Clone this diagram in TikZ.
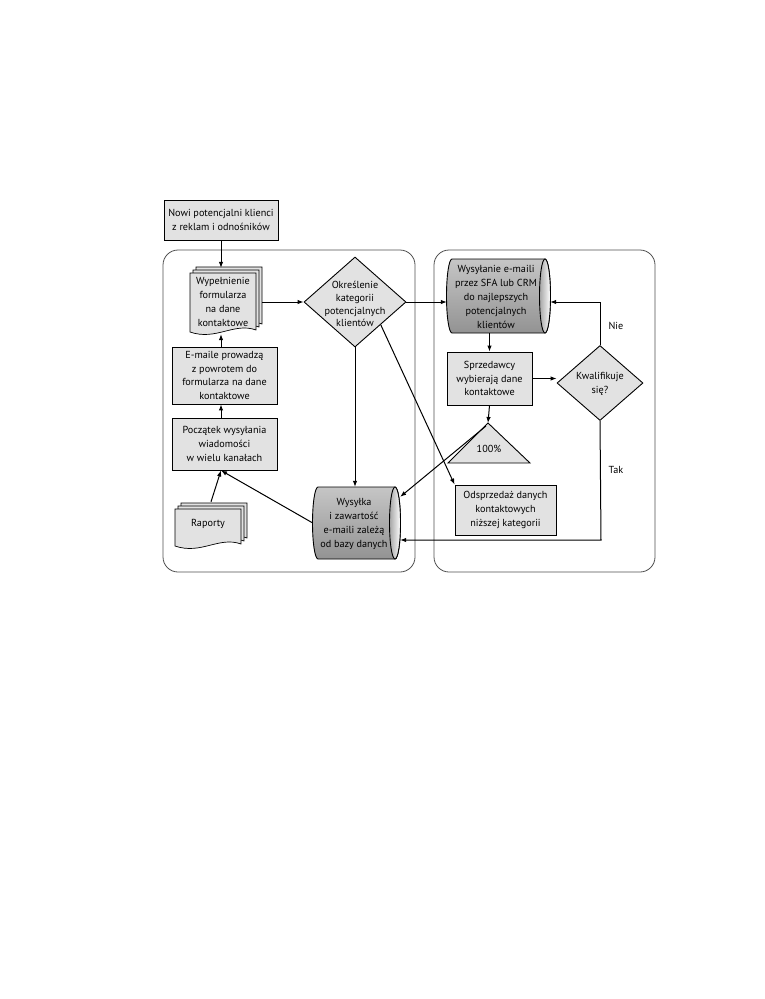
\documentclass[tikz,border=0pt]{standalone}
\usepackage{fontspec}
\setmainfont{PT Sans}
\usetikzlibrary{arrows.meta,shapes.geometric}
\definecolor{boxgray}{HTML}{E2E2E2}
\definecolor{framegray}{HTML}{505050}
\newcommand{\mydoc}[4]{%
  \foreach \o in {6,3,0} {%
    \filldraw[docpage] (#1+\o,#2-\o) -- (#3+\o,#2-\o) -- (#3+\o,#4-2-\o)
      .. controls (#3-22+\o,#4-10-\o) and (#1+26+\o,#4+9-\o) .. (#1+\o,#4-\o) -- cycle;}%
}
\newcommand{\myhcyl}[5]{%
  \shadedraw[cylbody] (#1+5,#2) -- (#3-5,#2)
    arc[start angle=90,end angle=-90,x radius=5.5pt,y radius=#5pt] -- (#1+5,#4)
    arc[start angle=270,end angle=90,x radius=5.5pt,y radius=#5pt] -- cycle;
  \shadedraw[cylcap] (#3-5,{(#2+#4)/2}) ellipse[x radius=5.5pt,y radius=#5pt];
}
\begin{document}
\begin{tikzpicture}[x=1pt,y=-1pt,
  every node/.style={font=\fontsize{10.2}{13.8}\selectfont, align=center, inner sep=0pt},
  proc/.style={draw, line width=0.9pt, fill=boxgray},
  dia/.style={draw, line width=0.9pt, fill=boxgray, diamond},
  docpage/.style={draw, line width=0.7pt, fill=boxgray},
  cylbody/.style={draw, line width=0.9pt, top color=gray!45, middle color=gray!18, bottom color=gray!85},
  cylcap/.style={draw, line width=0.9pt, left color=gray!70, right color=white},
  frame/.style={draw=framegray, line width=0.8pt, rounded corners=15pt},
  arr/.style={line width=1pt, -{Latex[length=6pt,width=4.5pt]}},
  ln/.style={line width=1pt}]
\useasboundingbox (0,0) rectangle (765,999);
\fill[white] (0,0) rectangle (765,999);

% containers
\draw[frame] (163,250) rectangle (415,572);
\draw[frame] (434,250) rectangle (655,572);

% top box
\node[proc, minimum width=114pt, minimum height=40pt] (top) at (221,220)
  {Nowi potencjalni klienci\\z reklam i odnośników};

% document: form
\mydoc{190}{273}{256}{332}
\node[minimum width=72pt, minimum height=66pt] (form) at (226,301) {};
\node (formt) at (223,302) {Wypełnienie\\formularza\\na dane\\kontaktowe};

% decision 1
\node[dia, minimum width=102pt, minimum height=90pt] (okr) at (355,302) {};
\node[font=\fontsize{10.2}{12.8}\selectfont] (okrt) at (355,304) {Określenie\\kategorii\\potencjalnych\\klientów};

% cylinder 1
\myhcyl{447}{259}{550}{333}{37}
\node[minimum width=103pt, minimum height=74pt] (cyl1) at (498.5,296) {};
\node (cyl1t) at (496,297) {Wysyłanie e-maili\\przez SFA lub CRM\\do najlepszych\\potencjalnych\\klientów};

% left column boxes
\node[proc, minimum width=105pt, minimum height=57pt] (ema) at (224.5,375.5)
  {E-maile prowadzą\\z powrotem do\\formularza na dane\\kontaktowe};
\node[proc, minimum width=105pt, minimum height=52pt] (pocz) at (224.5,444)
  {Początek wysyłania\\wiadomości\\w wielu kanałach};

% raporty document
\mydoc{175}{509}{241}{546}
\node[minimum width=72pt, minimum height=50pt] (rap) at (211,527) {};
\node (rapt) at (208,524) {Raporty};

% cylinder 2
\myhcyl{313}{487}{400}{559}{36}
\node[minimum width=87pt, minimum height=72pt] (wys) at (356.5,523) {};
\node (wyst) at (354,524) {Wysyłka\\i zawartość\\e-maili zależą\\od bazy danych};

% right side
\node[proc, minimum width=85pt, minimum height=53pt] (sprz) at (489.5,378.5)
  {Sprzedawcy\\wybierają dane\\kontaktowe};
\node[dia, minimum width=86pt, minimum height=75pt] (kwal) at (600,383) {};
\node (kwalt) at (600,384) {Kwalifikuje\\się?};

\coordinate (triapex) at (488,423);
\filldraw[docpage, line width=0.9pt] (triapex) -- (530,463) -- (448,463) -- cycle;
\node (tri) at (489,449) {100\%};

\node[proc, minimum width=101pt, minimum height=50pt] (odsp) at (505.5,510)
  {Odsprzedaż danych\\kontaktowych\\niższej kategorii};

\node (nie) at (616,326) {Nie};
\node (tak) at (616,470) {Tak};

% connectors
\draw[arr] (top.south) -- (top.south |- form.north);
\draw[arr] (form.east |- okr.west) -- (okr.west);
\draw[arr] (ema.north -| top.south) -- (top.south |- form.south);
\draw[arr] (pocz.north -| top.south) -- (top.south |- ema.south);
\coordinate (poczin) at (pocz.south -| top.south);
\draw[arr] (rap.north) -- (poczin);
\draw[arr] (wys.west) -- (poczin);
\draw[arr] (okr.south) -- (okr.south |- wys.north);
\draw[arr] (okr.south east) -- (odsp.north west);
\draw[arr] (okr.east) -- (okr.east -| cyl1.west);
\draw[arr] (sprz.north |- cyl1.south) -- (sprz.north);
\draw[arr] (sprz.east) -- (sprz.east -| kwal.west);
\draw[arr] (kwal.north) |- (cyl1.east |- okr.east);
\draw[arr] (sprz.south) -- (triapex);
\coordinate (wysin) at ([yshift=-10pt]wys.north east);
\draw[arr] ([shift={(-2pt,-3pt)}]triapex) -- (wysin);
\coordinate (takc) at (601,540);
\draw[arr] (kwal.south) -- (takc) -- (takc -| wys.east);
\end{tikzpicture}
\end{document}
